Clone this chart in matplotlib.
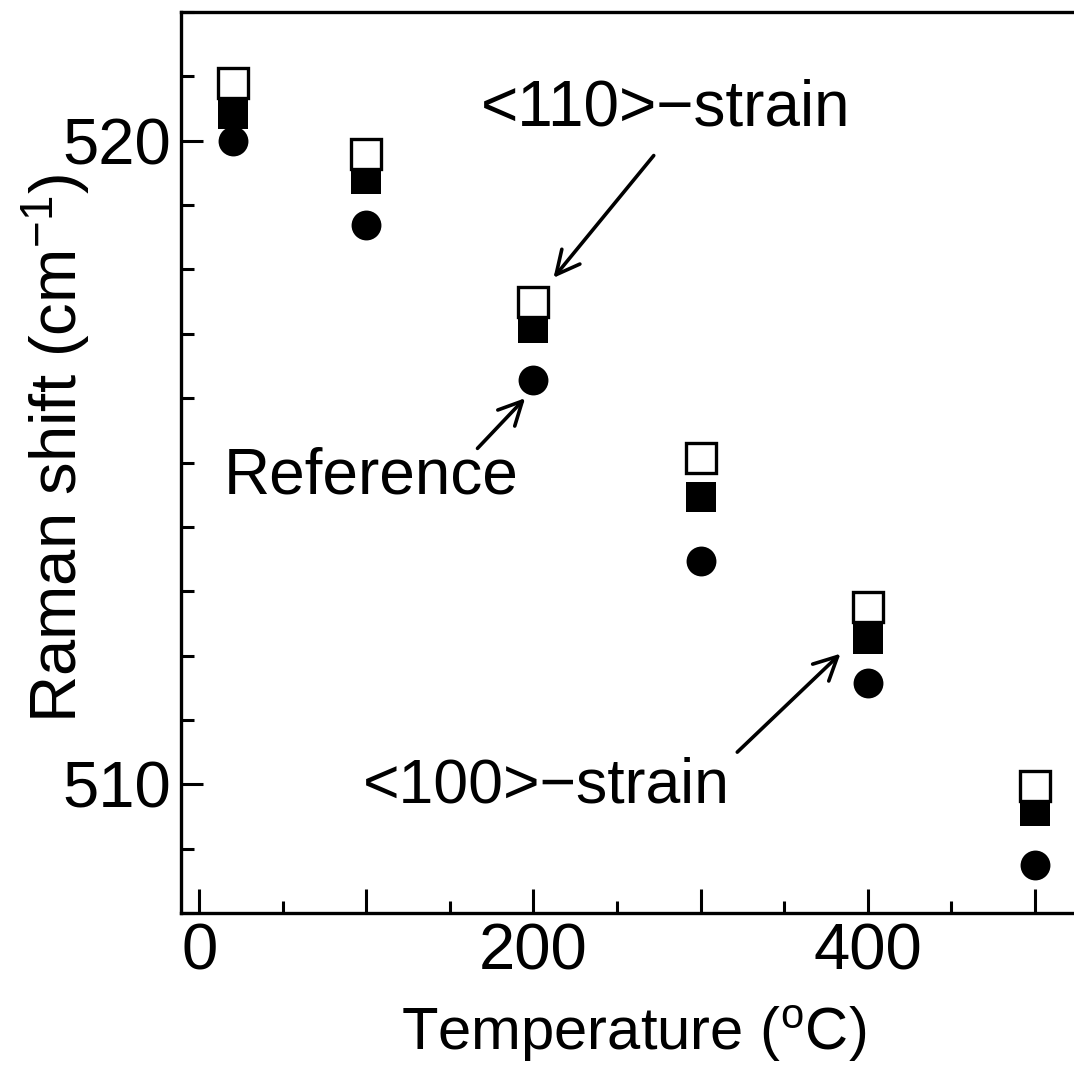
import numpy as np
import matplotlib
matplotlib.use("Agg")
import matplotlib.pyplot as plt
from matplotlib.ticker import MultipleLocator, FuncFormatter

plt.rcParams['font.family'] = ['Liberation Sans', 'DejaVu Sans']
plt.rcParams['mathtext.fontset'] = 'custom'
plt.rcParams['mathtext.rm'] = 'Liberation Sans'
plt.rcParams['mathtext.it'] = 'Liberation Sans'
plt.rcParams['mathtext.default'] = 'rm'

# ----------------------------
# Data: Raman shift vs temperature
# ----------------------------
temperature = [20, 100, 200, 300, 400, 500]
shift_reference = [520.0, 518.69, 516.28, 513.47, 511.57, 508.75]   # filled circles
shift_100_strain = [520.41, 519.41, 517.09, 514.47, 512.26, 509.58]  # filled squares
shift_110_strain = [520.90, 519.80, 517.49, 515.07, 512.76, 509.97]  # open squares

# ----------------------------
# Figure and axis setup
# ----------------------------
fig = plt.figure(figsize=(10.74, 10.65), dpi=100)
ax = fig.add_axes([0.1685, 0.1427, 0.8415, 0.846])

ax.set_xlim(-11, 530)
ax.set_ylim(508, 522)

for side in ['left', 'bottom', 'top', 'right']:
    ax.spines[side].set_linewidth(2.4)

# Markers: circles underneath, filled squares, then open squares on top
ax.plot(temperature, shift_reference, 'o', color='black', markersize=21.5,
        markeredgewidth=0, zorder=3)
ax.plot(temperature, shift_100_strain, 's', color='black', markersize=21.5,
        markeredgewidth=0, zorder=4)
ax.plot(temperature, shift_110_strain, 's', markerfacecolor='white',
        markeredgecolor='black', markersize=21.5, markeredgewidth=2.4, zorder=5)

# Ticks
ax.xaxis.set_major_locator(MultipleLocator(100))
ax.xaxis.set_minor_locator(MultipleLocator(50))
ax.xaxis.set_major_formatter(FuncFormatter(lambda v, p: f"{v:.0f}" if v % 200 == 0 else ""))
ax.yaxis.set_major_locator(MultipleLocator(10))
ax.yaxis.set_minor_locator(MultipleLocator(1))

ax.tick_params(axis='both', which='both', direction='in', top=False, right=False,
               labelsize=47, width=2.2)
ax.tick_params(axis='x', which='major', length=17, pad=7)
ax.tick_params(axis='x', which='minor', length=9)
ax.tick_params(axis='y', which='major', length=16, pad=7)
ax.tick_params(axis='y', which='minor', length=9)

# Axis labels
ax.set_xlabel(r"Temperature ($^{\rm o}$C)", fontsize=43)
ax.set_ylabel(r"Raman shift (cm$^{-1}$)", fontsize=47)
ax.xaxis.label.set_va('baseline')
ax.xaxis.set_label_coords(0.501, -0.152)
ax.yaxis.set_label_coords(-0.097, 0.516)

# Annotations
arrow = dict(arrowstyle='->', lw=2.6, color='black', mutation_scale=42,
             shrinkA=0, shrinkB=0)
ax.annotate("", xy=(212, 517.87), xytext=(272, 519.77), arrowprops=arrow)
ax.text(279, 520.23, "<110>\u2212strain", fontsize=46, ha='center', va='baseline')

ax.annotate("", xy=(195, 516.0), xytext=(166.5, 515.22), arrowprops=arrow)
ax.text(14.4, 514.52, "Reference", fontsize=46, ha='left', va='baseline')

ax.annotate("", xy=(383.8, 512.03), xytext=(322, 510.5), arrowprops=arrow)
ax.text(98, 509.72, "<100>\u2212strain", fontsize=45, ha='left', va='baseline')

fig.savefig("out.png", dpi=100)
